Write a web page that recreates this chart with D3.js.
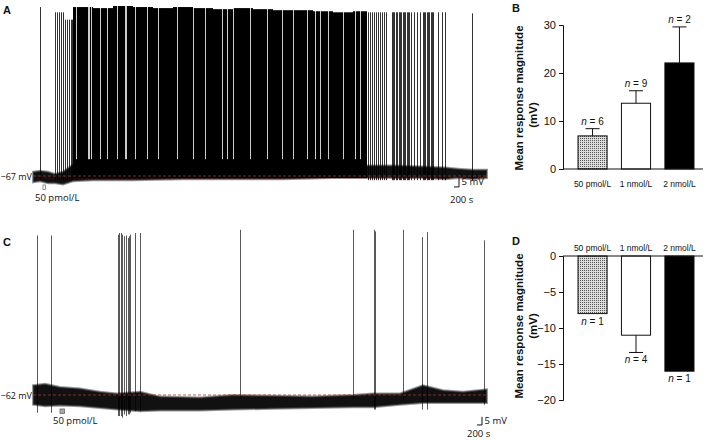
<!DOCTYPE html>
<html>
<head>
<meta charset="utf-8">
<style>
body { margin: 0; background: #fff; }
svg text { font-family: "Open Sans", "DejaVu Sans", sans-serif; fill: #111; }
.bars text { font-family: "Liberation Sans", Arial, sans-serif; }
.ylab { font-weight: bold; font-size: 11.5px; }
.letter { font-family: "Liberation Sans", Arial, sans-serif; font-weight: bold; font-size: 11px; }
</style>
<script src="https://cdn.jsdelivr.net/npm/d3@7/dist/d3.min.js"></script>
</head>
<body>
<script>
// ---------- trace A : 50 pmol/L, depolarising response (time in s, voltage in mV) ----------
var aEnvT  = [0, 280, 600, 880, 1200, 1600, 2400, 4000, 6000, 8000, 10000, 12000, 13400, 14400, 15600, 16500, 17000, 17600, 18160];
var aEnvHi = [-65, -64.5, -65, -66, -65, -61.5, -61, -60.5, -60.5, -61, -61, -61.5, -62, -62, -62.5, -63, -63.5, -64, -64];
var aEnvLo = [-70, -69.5, -70.5, -70.5, -71, -69.5, -69, -69, -68.5, -68.5, -68.5, -68, -68, -68, -68, -68.5, -68, -68.5, -68];
// continuous firing (start, end, peak)
var aBursts = [[1600, 2400, 13.5], [2400, 3200, 13], [3200, 4000, 14], [4000, 4800, 13.5], [4800, 5600, 13],
  [5600, 6400, 13.5], [6400, 7200, 13], [7200, 8000, 12.5], [8000, 8800, 13], [8800, 9600, 12.5],
  [9600, 10400, 12], [10400, 11200, 12], [11200, 12000, 11.5], [12000, 12800, 11], [12800, 13360, 11.5]];
// short pauses inside the firing
var aGaps = [1720, 2200, 2240, 2320, 2680, 2960, 3360, 3680, 3720, 4080, 4560, 5000, 5760, 6400, 6880,
             7560, 7760, 8000, 8680, 9360, 9960, 10400, 10960, 11280, 11480, 11800, 12400, 12880, 13080];
// single spikes (time, peak)
var aSpikes = [[280, 13.5],
  [880, 11], [960, 11], [1040, 11], [1120, 11], [1200, 11],
  [1280, 7.5], [1360, 7.5], [1440, 7.5], [1520, 7.5], [1560, 7.5],
  [13400, 11], [13480, 11], [13560, 11], [13640, 11], [13720, 11], [13800, 11], [13880, 11], [13960, 11], [14040, 11], [14120, 11],
  [14360, 11], [14400, 11], [14440, 11], [14520, 11], [14560, 11], [14640, 11], [14680, 11], [14720, 11], [14800, 11],
  [14840, 11], [14880, 11], [14960, 11], [15000, 11], [15040, 11],
  [15120, 11], [15240, 11], [15360, 11], [15480, 11],
  [15600, 11], [15640, 11], [15680, 11], [15760, 11], [15800, 11], [15840, 11], [15920, 11], [15960, 11], [16000, 11],
  [16200, 11], [16360, 11], [16480, 11], [17560, 10.5]];
var aRest = -67;

// ---------- trace C : 50 pmol/L, hyperpolarising response ----------
var cEnvT  = [0, 480, 1080, 1880, 2680, 3360, 4280, 5080, 6680, 8000, 9600, 11200, 12800, 13600, 14680, 15600, 16400, 17200, 18160];
var cEnvHi = [-56, -55, -57, -58, -60, -61, -60, -63, -63.5, -62, -62.5, -63, -62, -61, -61, -56, -59, -60, -58.5];
var cEnvLo = [-68, -69, -68.5, -69, -70, -71, -72, -71.5, -71.5, -71, -70.5, -70, -69.5, -69.5, -68, -67, -67, -67, -67];
// spikes (time, peak, trough)
var cSpikes = [[160, 36.5, -73], [720, 36.5, -73],
  [3400, 37, -75], [3440, 38, -75], [3520, 38, -75], [3560, 37, -76], [3640, 36, -74], [3720, 36.5, -75],
  [3800, 35, -74], [3840, 36, -74], [3880, 37, -73], [4080, 38, -72], [4280, 38, -72],
  [8280, 40, -64], [12800, 40, -65], [13640, 40, -71], [13680, 39, -71], [14800, 40, -65],
  [15560, 35.5, -71], [15760, 38.5, -71], [18040, 33.5, -68]];
var cRest = -62;

// ---------- bar charts ----------
var doses = ["50 pmol/L", "1 nmol/L", "2 nmol/L"];
var bMean = [6.9, 13.7, 22.1];
var bSem  = [1.5, 2.6, 7.5];
var bN    = [6, 9, 2];
var dMean = [-8.0, -11.0, -16.0];
var dSem  = [0, 2.4, 0];
var dN    = [1, 4, 1];
var bTicks = [0, 10, 20, 30];
var dTicks = [0, -5, -10, -15, -20];

var width = 709, height = 440;
var svg = d3.select("body").append("svg")
    .attr("width", width)
    .attr("height", height);

var defs = svg.append("defs");
var pat = defs.append("pattern")
    .attr("id", "dots")
    .attr("patternUnits", "userSpaceOnUse")
    .attr("width", 2).attr("height", 2);
pat.append("rect").attr("width", 2).attr("height", 2).attr("fill", "#dcdcdc");
pat.append("rect").attr("width", 1).attr("height", 1).attr("fill", "#555");

// shared time axis for both traces
var tx = d3.scaleLinear().domain([0, 18200]).range([33, 488]);
function px(t) { return Math.round(tx(t)) + 0.5; }   // crisp 1px verticals

function drawTrace(g, y, env, bursts, gaps, spikes, rest, spikeOpacity) {
  var area = d3.area()
      .x(function (d) { return tx(d[0]); })
      .y0(function (d) { return y(d[2]); })
      .y1(function (d) { return y(d[1]); });
  // noise band, soft grey fringe around a black core
  g.append("path")
      .datum(env)
      .attr("d", area)
      .attr("fill", "#111")
      .attr("stroke", "#555")
      .attr("stroke-opacity", 0.6)
      .attr("stroke-width", 2);

  g.selectAll(".burst")
      .data(bursts)
      .enter().append("rect")
      .attr("x", function (d) { return Math.round(tx(d[0])); })
      .attr("width", function (d) { return Math.round(tx(d[1])) - Math.round(tx(d[0])); })
      .attr("y", function (d) { return y(d[2]); })
      .attr("height", function (d) { return y(rest - 1) - y(d[2]); })
      .attr("fill", "#000");

  g.selectAll(".gap")
      .data(gaps)
      .enter().append("line")
      .attr("x1", px)
      .attr("x2", px)
      .attr("y1", y(15))
      .attr("y2", y(rest + 8))
      .attr("stroke", "#fff")
      .attr("stroke-opacity", 0.8)
      .attr("stroke-width", 1);

  g.selectAll(".spike")
      .data(spikes)
      .enter().append("line")
      .attr("x1", function (d) { return px(d[0]); })
      .attr("x2", function (d) { return px(d[0]); })
      .attr("y1", function (d) { return y(d[1]); })
      .attr("y2", function (d) { return y(d.length > 2 ? d[2] : rest - 2); })
      .attr("stroke", "#000")
      .attr("stroke-opacity", spikeOpacity)
      .attr("stroke-width", 1);

  // resting potential reference
  g.append("line")
      .attr("x1", tx(0)).attr("x2", tx(18200))
      .attr("y1", y(rest)).attr("y2", y(rest))
      .attr("stroke", "#b3312c")
      .attr("stroke-width", 0.8)
      .attr("stroke-dasharray", "3,2");
}

function scaleBar(g, y, t0, v0, lx, ly) {
  g.append("path")
      .attr("d", "M" + tx(t0) + "," + y(v0) + "H" + tx(t0 + 200) + "V" + y(v0 + 5))
      .attr("fill", "none")
      .attr("stroke", "#111")
      .attr("stroke-width", 1);
  g.append("text").attr("x", tx(t0 + 200) + 2.5).attr("y", (y(v0) + y(v0 + 5)) / 2 + 3.5)
      .style("font-size", "9.5px").text("5 mV");
  g.append("text").attr("x", lx).attr("y", ly)
      .style("font-size", "9.5px").text("200 s");
}

// ---- panel A ----
var yA = d3.scaleLinear().domain([-67, 14]).range([176, 6]);
var gA = svg.append("g");
var envA = aEnvT.map(function (t, i) { return [t, aEnvHi[i], aEnvLo[i]]; });
drawTrace(gA, yA, envA, aBursts, aGaps, aSpikes, aRest, 0.8);
gA.append("text").attr("x", 32).attr("y", yA(aRest) + 3.5).attr("text-anchor", "end")
    .style("font-size", "9px").text("\u221267 mV");
gA.append("rect").attr("x", 43).attr("y", 185).attr("width", 2.5).attr("height", 4.5)
    .attr("fill", "#fff").attr("stroke", "#777").attr("stroke-width", 0.8);
gA.append("text").attr("x", 35).attr("y", 200.5).style("font-size", "9.5px").text("50 pmol/L");
scaleBar(gA, yA, 16840, -72.2, 450, 202.5);
svg.append("text").attr("class", "letter").attr("x", 3).attr("y", 14).text("A");

// ---- panel C ----
var yC = d3.scaleLinear().domain([-62, 40]).range([395, 229.8]);
var gC = svg.append("g");
var envC = cEnvT.map(function (t, i) { return [t, cEnvHi[i], cEnvLo[i]]; });
drawTrace(gC, yC, envC, [], [], cSpikes, cRest, 0.65);
gC.append("text").attr("x", 32).attr("y", yC(cRest) + 3.5).attr("text-anchor", "end")
    .style("font-size", "9px").text("\u221262 mV");
gC.append("rect").attr("x", 60).attr("y", 409).attr("width", 4.5).attr("height", 4.5)
    .attr("fill", "#aaa").attr("stroke", "#666").attr("stroke-width", 0.8);
gC.append("text").attr("x", 53).attr("y", 424).style("font-size", "9.5px").text("50 pmol/L");
scaleBar(gC, yC, 17760, -80.5, 467, 436.5);
svg.append("text").attr("class", "letter").attr("x", 3).attr("y", 246).text("C");

// ---- bar panels ----
var bx = d3.scaleBand().domain(doses).range([578, 694]).paddingInner(0.33).paddingOuter(0);
var fills = ["url(#dots)", "#fff", "#000"];

function barPanel(yScale, ticks, means, sems, ns, catY, letter, letterY, labCenter, mvCenter) {
  var g = svg.append("g").attr("class", "bars");
  var zero = yScale(0);

  g.append("g")
      .attr("transform", "translate(563,0)")
      .call(d3.axisLeft(yScale).tickValues(ticks).tickSize(4).tickPadding(3)
        .tickFormat(function (d) { return d < 0 ? "\u2212" + Math.abs(d) : d; }))
      .call(function (a) {
        a.select(".domain").attr("stroke", "#111");
        a.selectAll(".tick line").attr("stroke", "#111");
        a.selectAll(".tick text").style("font-size", "11px").attr("fill", "#222")
            .style("font-family", "Liberation Sans, Arial, sans-serif");
      });

  g.selectAll(".bar")
      .data(doses)
      .enter().append("rect")
      .attr("x", function (d) { return bx(d); })
      .attr("width", bx.bandwidth())
      .attr("y", function (d, i) { return Math.min(zero, yScale(means[i])); })
      .attr("height", function (d, i) { return Math.abs(yScale(means[i]) - zero); })
      .attr("fill", function (d, i) { return fills[i]; })
      .attr("stroke", "#111")
      .attr("stroke-width", 1);

  // error bars, away from zero
  doses.forEach(function (d, i) {
    if (!sems[i]) return;
    var cx = bx(d) + bx.bandwidth() / 2;
    var sign = means[i] < 0 ? -1 : 1;
    var y0 = yScale(means[i]), y1 = yScale(means[i] + sign * sems[i]);
    g.append("line").attr("x1", cx).attr("x2", cx).attr("y1", y0).attr("y2", y1)
        .attr("stroke", "#111").attr("stroke-width", 1);
    g.append("line").attr("x1", cx - 7).attr("x2", cx + 7).attr("y1", y1).attr("y2", y1)
        .attr("stroke", "#111").attr("stroke-width", 1);
  });

  g.append("line").attr("x1", 563).attr("x2", 703).attr("y1", zero).attr("y2", zero)
      .attr("stroke", "#111").attr("stroke-width", 1);

  // n labels
  doses.forEach(function (d, i) {
    var cx = bx(d) + bx.bandwidth() / 2;
    var end = yScale(means[i] + (means[i] < 0 ? -1 : 1) * sems[i]);
    var ty = means[i] < 0 ? end + 11 : end - 4;
    var t = g.append("text").attr("x", cx).attr("y", ty).attr("text-anchor", "middle")
        .style("font-size", "10px").attr("fill", "#222");
    t.append("tspan").style("font-style", "italic").text("n");
    t.append("tspan").text(" = " + ns[i]);
  });

  g.selectAll(".cat")
      .data(doses)
      .enter().append("text")
      .attr("x", function (d) { return bx(d) + bx.bandwidth() / 2; })
      .attr("y", catY)
      .attr("text-anchor", "middle")
      .style("font-size", "8.5px")
      .attr("fill", "#222")
      .text(function (d) { return d; });

  g.append("text").attr("class", "ylab")
      .attr("transform", "translate(523," + labCenter + ") rotate(-90)")
      .attr("text-anchor", "middle").text("Mean response magnitude");
  g.append("text").attr("class", "ylab")
      .attr("transform", "translate(537," + mvCenter + ") rotate(-90)")
      .attr("text-anchor", "middle").text("(mV)");

  svg.append("text").attr("class", "letter").attr("x", 512).attr("y", letterY).text(letter);
}

var yB = d3.scaleLinear().domain([0, 30]).range([169, 25]);
barPanel(yB, bTicks, bMean, bSem, bN, 187, "B", 12, 98, 115);

var yD = d3.scaleLinear().domain([-20, 0]).range([400, 256]);
barPanel(yD, dTicks, dMean, dSem, dN, 251, "D", 245, 326, 326);
</script>
</body>
</html>
